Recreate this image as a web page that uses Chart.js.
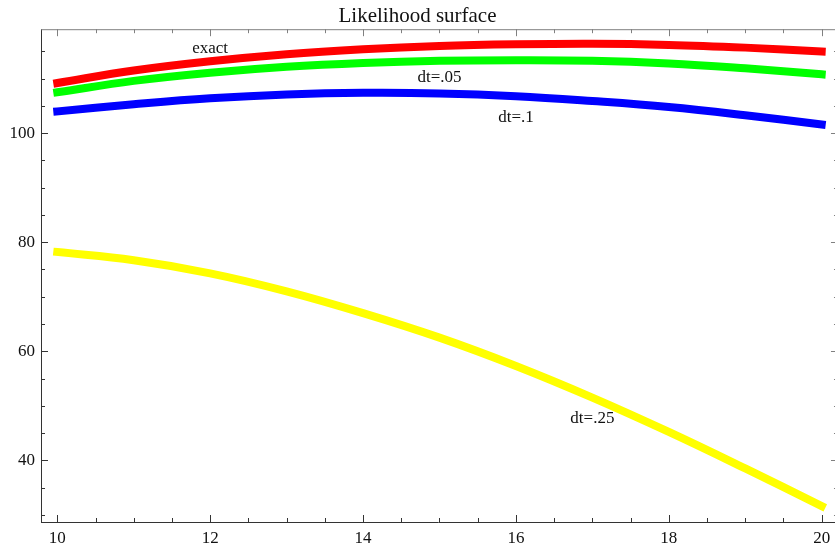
<!DOCTYPE html>
<html>
<head>
<meta charset="utf-8">
<title>Likelihood surface</title>
<script src="https://cdn.jsdelivr.net/npm/chart.js@4/dist/chart.umd.min.js"></script>
<style>
    html, body { margin: 0; padding: 0; background: #fff; overflow: hidden; }
    #wrap { width: 835px; height: 548px; }
</style>
</head>
<body>
<div id="wrap"><canvas id="chart" width="835" height="548"></canvas></div>
<script>
// curve values at x = 10..20
const xValues = [10, 11, 12, 13, 14, 15, 16, 17, 18, 19, 20];
const exact   = [109.2, 111.5, 113.2, 114.5, 115.4, 116.0, 116.3, 116.4, 116.2, 115.7, 115.0];
const dt05    = [107.5, 109.6, 111.1, 112.2, 112.9, 113.3, 113.4, 113.3, 112.8, 111.9, 110.8];
const dt1     = [104.0, 105.3, 106.4, 107.1, 107.4, 107.3, 106.8, 105.9, 104.8, 103.3, 101.6];
const dt25    = [78.2, 76.7, 74.3, 71.0, 67.0, 62.5, 57.3, 51.5, 45.2, 38.5, 31.6];

const xTicks = [10, 12, 14, 16, 18, 20];
const yTicks = [40, 60, 80, 100];

// curve labels: text, x, y (data coordinates)
const labelText = ['exact', 'dt=.05', 'dt=.1', 'dt=.25'];
const labelX = [12.0, 15.0, 16.0, 17.0];
const labelY = [115.6, 110.3, 102.8, 47.7];

const SERIF = "'Liberation Serif', 'Times New Roman', serif";
const FRAME_RIGHT = 20.213; // plot frame sits just past the image's right edge

function toPoints(ys) {
    return xValues.map((x, i) => ({ x: x, y: ys[i] }));
}

function series(label, ys, color) {
    return {
        label: label,
        data: toPoints(ys),
        borderColor: color,
        backgroundColor: color,
        borderWidth: 8,
        borderCapStyle: 'square',
        pointRadius: 0,
        tension: 0.4,
        fill: false
    };
}

// Mathematica-style frame: inward ticks on all four sides + top line
const framePlugin = {
    id: 'frame',
    afterDraw(chart) {
        const { ctx, chartArea: a, scales: { x, y } } = chart;
        const right = x.getPixelForValue(FRAME_RIGHT);
        ctx.save();
        ctx.lineWidth = 1;

        ctx.strokeStyle = '#808080';
        ctx.beginPath();
        ctx.moveTo(a.left, a.top + 0.5);
        ctx.lineTo(chart.width, a.top + 0.5);
        ctx.stroke();

        // x ticks every 0.5, major at 2
        for (let v = 10; v <= 20.001; v += 0.5) {
            const px = Math.round(x.getPixelForValue(v)) + 0.5;
            const len = xTicks.includes(Math.round(v * 10) / 10) ? 7 : 4;
            ctx.strokeStyle = '#333';
            ctx.beginPath();
            ctx.moveTo(px, a.bottom);
            ctx.lineTo(px, a.bottom - len);
            ctx.stroke();
            ctx.strokeStyle = '#808080';
            ctx.beginPath();
            ctx.moveTo(px, a.top);
            ctx.lineTo(px, a.top + len);
            ctx.stroke();
        }
        // y ticks every 5, major at 20
        for (let v = 30; v <= 115; v += 5) {
            const py = Math.round(y.getPixelForValue(v)) + 0.5;
            const len = yTicks.includes(v) ? 7 : 4;
            ctx.strokeStyle = '#333';
            ctx.beginPath();
            ctx.moveTo(a.left, py);
            ctx.lineTo(a.left + len, py);
            ctx.stroke();
            ctx.strokeStyle = '#808080';
            ctx.beginPath();
            ctx.moveTo(right, py);
            ctx.lineTo(right - len, py);
            ctx.stroke();
        }

        // curve labels
        ctx.fillStyle = '#111';
        ctx.font = '17px ' + SERIF;
        ctx.textAlign = 'center';
        ctx.textBaseline = 'middle';
        labelText.forEach((t, i) => {
            ctx.fillText(t, x.getPixelForValue(labelX[i]), y.getPixelForValue(labelY[i]));
        });
        ctx.restore();
    }
};

new Chart(document.getElementById('chart'), {
    type: 'line',
    data: {
        datasets: [
            series('exact', exact, '#ff0000'),
            series('dt=.05', dt05, '#00ff00'),
            series('dt=.1', dt1, '#0000ff'),
            series('dt=.25', dt25, '#ffff00')
        ]
    },
    options: {
        responsive: false,
        animation: false,
        layout: { padding: 0 },
        plugins: {
            legend: { display: false },
            tooltip: { enabled: false },
            title: {
                display: true,
                text: 'Likelihood surface',
                color: '#111',
                font: { family: SERIF, size: 21, weight: 'normal', lineHeight: 1.2 },
                padding: { top: 4, bottom: 0 }
            }
        },
        scales: {
            x: {
                type: 'linear',
                min: 9.787,
                max: 20.174,
                afterBuildTicks: (s) => { s.ticks = xTicks.map(v => ({ value: v })); },
                afterFit: (s) => { s.height = 26; s.paddingLeft = 0; s.paddingRight = 0; },
                grid: { display: false, drawTicks: false },
                border: { display: true, color: '#333', width: 1 },
                ticks: {
                    color: '#111',
                    padding: 6,
                    autoSkip: false,
                    maxRotation: 0,
                    font: { family: SERIF, size: 17 },
                    callback: (v) => String(v)
                }
            },
            y: {
                type: 'linear',
                min: 28.68,
                max: 119.08,
                afterBuildTicks: (s) => { s.ticks = yTicks.map(v => ({ value: v })); },
                afterFit: (s) => { s.width = 41; s.paddingTop = 0; s.paddingBottom = 0; },
                grid: { display: false, drawTicks: false },
                border: { display: true, color: '#333', width: 1 },
                ticks: {
                    color: '#111',
                    padding: 6,
                    font: { family: SERIF, size: 17 },
                    callback: (v) => String(v)
                }
            }
        }
    },
    plugins: [framePlugin]
});
</script>
</body>
</html>
